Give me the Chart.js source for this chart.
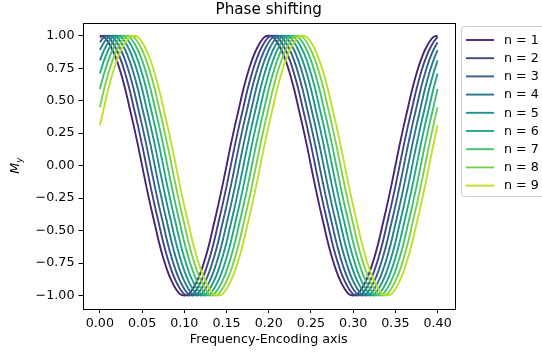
<!DOCTYPE html>
<html>
<head>
<meta charset="utf-8">
<script src="https://cdn.jsdelivr.net/npm/chart.js@4/dist/chart.umd.min.js"></script>
<style>
  html, body { margin: 0; padding: 0; background: #fff; }
  canvas { display: block; }
</style>
</head>
<body>
<canvas id="chart" width="542" height="354"></canvas>
<script>
// Sample positions along the frequency-encoding axis
const xValues = [
  0, 0.005, 0.01, 0.015, 0.02, 0.025, 0.03, 0.035, 0.04, 0.045,
  0.05, 0.055, 0.06, 0.065, 0.07, 0.075, 0.08, 0.085, 0.09, 0.095,
  0.1, 0.105, 0.11, 0.115, 0.12, 0.125, 0.13, 0.135, 0.14, 0.145,
  0.15, 0.155, 0.16, 0.165, 0.17, 0.175, 0.18, 0.185, 0.19, 0.195,
  0.2, 0.205, 0.21, 0.215, 0.22, 0.225, 0.23, 0.235, 0.24, 0.245,
  0.25, 0.255, 0.26, 0.265, 0.27, 0.275, 0.28, 0.285, 0.29, 0.295,
  0.3, 0.305, 0.31, 0.315, 0.32, 0.325, 0.33, 0.335, 0.34, 0.345,
  0.35, 0.355, 0.36, 0.365, 0.37, 0.375, 0.38, 0.385, 0.39, 0.395,
  0.4
];

// M_y for each phase-encoding step n
const myN1 = [
  1, 0.99, 0.95, 0.89, 0.81, 0.71, 0.59, 0.45, 0.31, 0.16,
  0, -0.16, -0.31, -0.45, -0.59, -0.71, -0.81, -0.89, -0.95, -0.99,
  -1, -0.99, -0.95, -0.89, -0.81, -0.71, -0.59, -0.45, -0.31, -0.16,
  0, 0.16, 0.31, 0.45, 0.59, 0.71, 0.81, 0.89, 0.95, 0.99,
  1, 0.99, 0.95, 0.89, 0.81, 0.71, 0.59, 0.45, 0.31, 0.16,
  0, -0.16, -0.31, -0.45, -0.59, -0.71, -0.81, -0.89, -0.95, -0.99,
  -1, -0.99, -0.95, -0.89, -0.81, -0.71, -0.59, -0.45, -0.31, -0.16,
  0, 0.16, 0.31, 0.45, 0.59, 0.71, 0.81, 0.89, 0.95, 0.99,
  1
];
const myN2 = [
  0.99, 1, 0.99, 0.95, 0.89, 0.81, 0.71, 0.59, 0.45, 0.31,
  0.16, 0, -0.16, -0.31, -0.45, -0.59, -0.71, -0.81, -0.89, -0.95,
  -0.99, -1, -0.99, -0.95, -0.89, -0.81, -0.71, -0.59, -0.45, -0.31,
  -0.16, 0, 0.16, 0.31, 0.45, 0.59, 0.71, 0.81, 0.89, 0.95,
  0.99, 1, 0.99, 0.95, 0.89, 0.81, 0.71, 0.59, 0.45, 0.31,
  0.16, 0, -0.16, -0.31, -0.45, -0.59, -0.71, -0.81, -0.89, -0.95,
  -0.99, -1, -0.99, -0.95, -0.89, -0.81, -0.71, -0.59, -0.45, -0.31,
  -0.16, 0, 0.16, 0.31, 0.45, 0.59, 0.71, 0.81, 0.89, 0.95,
  0.99
];
const myN3 = [
  0.95, 0.99, 1, 0.99, 0.95, 0.89, 0.81, 0.71, 0.59, 0.45,
  0.31, 0.16, 0, -0.16, -0.31, -0.45, -0.59, -0.71, -0.81, -0.89,
  -0.95, -0.99, -1, -0.99, -0.95, -0.89, -0.81, -0.71, -0.59, -0.45,
  -0.31, -0.16, 0, 0.16, 0.31, 0.45, 0.59, 0.71, 0.81, 0.89,
  0.95, 0.99, 1, 0.99, 0.95, 0.89, 0.81, 0.71, 0.59, 0.45,
  0.31, 0.16, 0, -0.16, -0.31, -0.45, -0.59, -0.71, -0.81, -0.89,
  -0.95, -0.99, -1, -0.99, -0.95, -0.89, -0.81, -0.71, -0.59, -0.45,
  -0.31, -0.16, 0, 0.16, 0.31, 0.45, 0.59, 0.71, 0.81, 0.89,
  0.95
];
const myN4 = [
  0.89, 0.95, 0.99, 1, 0.99, 0.95, 0.89, 0.81, 0.71, 0.59,
  0.45, 0.31, 0.16, 0, -0.16, -0.31, -0.45, -0.59, -0.71, -0.81,
  -0.89, -0.95, -0.99, -1, -0.99, -0.95, -0.89, -0.81, -0.71, -0.59,
  -0.45, -0.31, -0.16, 0, 0.16, 0.31, 0.45, 0.59, 0.71, 0.81,
  0.89, 0.95, 0.99, 1, 0.99, 0.95, 0.89, 0.81, 0.71, 0.59,
  0.45, 0.31, 0.16, 0, -0.16, -0.31, -0.45, -0.59, -0.71, -0.81,
  -0.89, -0.95, -0.99, -1, -0.99, -0.95, -0.89, -0.81, -0.71, -0.59,
  -0.45, -0.31, -0.16, 0, 0.16, 0.31, 0.45, 0.59, 0.71, 0.81,
  0.89
];
const myN5 = [
  0.81, 0.89, 0.95, 0.99, 1, 0.99, 0.95, 0.89, 0.81, 0.71,
  0.59, 0.45, 0.31, 0.16, 0, -0.16, -0.31, -0.45, -0.59, -0.71,
  -0.81, -0.89, -0.95, -0.99, -1, -0.99, -0.95, -0.89, -0.81, -0.71,
  -0.59, -0.45, -0.31, -0.16, 0, 0.16, 0.31, 0.45, 0.59, 0.71,
  0.81, 0.89, 0.95, 0.99, 1, 0.99, 0.95, 0.89, 0.81, 0.71,
  0.59, 0.45, 0.31, 0.16, 0, -0.16, -0.31, -0.45, -0.59, -0.71,
  -0.81, -0.89, -0.95, -0.99, -1, -0.99, -0.95, -0.89, -0.81, -0.71,
  -0.59, -0.45, -0.31, -0.16, 0, 0.16, 0.31, 0.45, 0.59, 0.71,
  0.81
];
const myN6 = [
  0.71, 0.81, 0.89, 0.95, 0.99, 1, 0.99, 0.95, 0.89, 0.81,
  0.71, 0.59, 0.45, 0.31, 0.16, 0, -0.16, -0.31, -0.45, -0.59,
  -0.71, -0.81, -0.89, -0.95, -0.99, -1, -0.99, -0.95, -0.89, -0.81,
  -0.71, -0.59, -0.45, -0.31, -0.16, 0, 0.16, 0.31, 0.45, 0.59,
  0.71, 0.81, 0.89, 0.95, 0.99, 1, 0.99, 0.95, 0.89, 0.81,
  0.71, 0.59, 0.45, 0.31, 0.16, 0, -0.16, -0.31, -0.45, -0.59,
  -0.71, -0.81, -0.89, -0.95, -0.99, -1, -0.99, -0.95, -0.89, -0.81,
  -0.71, -0.59, -0.45, -0.31, -0.16, 0, 0.16, 0.31, 0.45, 0.59,
  0.71
];
const myN7 = [
  0.59, 0.71, 0.81, 0.89, 0.95, 0.99, 1, 0.99, 0.95, 0.89,
  0.81, 0.71, 0.59, 0.45, 0.31, 0.16, 0, -0.16, -0.31, -0.45,
  -0.59, -0.71, -0.81, -0.89, -0.95, -0.99, -1, -0.99, -0.95, -0.89,
  -0.81, -0.71, -0.59, -0.45, -0.31, -0.16, 0, 0.16, 0.31, 0.45,
  0.59, 0.71, 0.81, 0.89, 0.95, 0.99, 1, 0.99, 0.95, 0.89,
  0.81, 0.71, 0.59, 0.45, 0.31, 0.16, 0, -0.16, -0.31, -0.45,
  -0.59, -0.71, -0.81, -0.89, -0.95, -0.99, -1, -0.99, -0.95, -0.89,
  -0.81, -0.71, -0.59, -0.45, -0.31, -0.16, 0, 0.16, 0.31, 0.45,
  0.59
];
const myN8 = [
  0.45, 0.59, 0.71, 0.81, 0.89, 0.95, 0.99, 1, 0.99, 0.95,
  0.89, 0.81, 0.71, 0.59, 0.45, 0.31, 0.16, 0, -0.16, -0.31,
  -0.45, -0.59, -0.71, -0.81, -0.89, -0.95, -0.99, -1, -0.99, -0.95,
  -0.89, -0.81, -0.71, -0.59, -0.45, -0.31, -0.16, 0, 0.16, 0.31,
  0.45, 0.59, 0.71, 0.81, 0.89, 0.95, 0.99, 1, 0.99, 0.95,
  0.89, 0.81, 0.71, 0.59, 0.45, 0.31, 0.16, 0, -0.16, -0.31,
  -0.45, -0.59, -0.71, -0.81, -0.89, -0.95, -0.99, -1, -0.99, -0.95,
  -0.89, -0.81, -0.71, -0.59, -0.45, -0.31, -0.16, 0, 0.16, 0.31,
  0.45
];
const myN9 = [
  0.31, 0.45, 0.59, 0.71, 0.81, 0.89, 0.95, 0.99, 1, 0.99,
  0.95, 0.89, 0.81, 0.71, 0.59, 0.45, 0.31, 0.16, 0, -0.16,
  -0.31, -0.45, -0.59, -0.71, -0.81, -0.89, -0.95, -0.99, -1, -0.99,
  -0.95, -0.89, -0.81, -0.71, -0.59, -0.45, -0.31, -0.16, 0, 0.16,
  0.31, 0.45, 0.59, 0.71, 0.81, 0.89, 0.95, 0.99, 1, 0.99,
  0.95, 0.89, 0.81, 0.71, 0.59, 0.45, 0.31, 0.16, 0, -0.16,
  -0.31, -0.45, -0.59, -0.71, -0.81, -0.89, -0.95, -0.99, -1, -0.99,
  -0.95, -0.89, -0.81, -0.71, -0.59, -0.45, -0.31, -0.16, 0, 0.16,
  0.31
];

const seriesLabels = ['n = 1', 'n = 2', 'n = 3', 'n = 4', 'n = 5', 'n = 6', 'n = 7', 'n = 8', 'n = 9'];
const seriesValues = [myN1, myN2, myN3, myN4, myN5, myN6, myN7, myN8, myN9];
const lineColors = ['#482475', '#414487', '#355f8d', '#2a788e', '#21918c', '#22a884', '#44bf70', '#7ad151', '#bddf26'];

const xTickValues = [0, 0.05, 0.1, 0.15, 0.2, 0.25, 0.3, 0.35, 0.4];
const xTickLabels = ['0.00', '0.05', '0.10', '0.15', '0.20', '0.25', '0.30', '0.35', '0.40'];
const yTickValues = [-1, -0.75, -0.5, -0.25, 0, 0.25, 0.5, 0.75, 1];
const yTickLabels = ['\u22121.00', '\u22120.75', '\u22120.50', '\u22120.25', '0.00', '0.25', '0.50', '0.75', '1.00'];

const FONT = 'DejaVu Sans';
const TICK_SIZE = 12.7;
Chart.defaults.font.family = FONT;
Chart.defaults.color = '#000';

// Full box around the plotting area
const framePlugin = {
  id: 'frame',
  afterDatasetsDraw(chart) {
    const { ctx, chartArea: a } = chart;
    ctx.save();
    ctx.strokeStyle = '#000';
    ctx.lineWidth = 1;
    ctx.strokeRect(Math.round(a.left) + 0.5, Math.round(a.top) + 0.5,
                   Math.round(a.right - a.left), Math.round(a.bottom - a.top));
    ctx.restore();
  }
};

// Boxed legend placed outside the axes, top right
const sideLegendPlugin = {
  id: 'sideLegend',
  afterDraw(chart) {
    const { ctx } = chart;
    const boxX = 461.5, boxY = 26.5, boxW = 90, boxH = 170, r = 3;
    ctx.save();
    ctx.beginPath();
    ctx.moveTo(boxX + r, boxY);
    ctx.lineTo(boxX + boxW - r, boxY);
    ctx.arcTo(boxX + boxW, boxY, boxX + boxW, boxY + r, r);
    ctx.lineTo(boxX + boxW, boxY + boxH - r);
    ctx.arcTo(boxX + boxW, boxY + boxH, boxX + boxW - r, boxY + boxH, r);
    ctx.lineTo(boxX + r, boxY + boxH);
    ctx.arcTo(boxX, boxY + boxH, boxX, boxY + boxH - r, r);
    ctx.lineTo(boxX, boxY + r);
    ctx.arcTo(boxX, boxY, boxX + r, boxY, r);
    ctx.closePath();
    ctx.fillStyle = 'rgba(255,255,255,0.8)';
    ctx.fill();
    ctx.strokeStyle = '#cccccc';
    ctx.lineWidth = 1;
    ctx.stroke();

    ctx.font = TICK_SIZE + 'px "' + FONT + '"';
    ctx.textBaseline = 'middle';
    ctx.textAlign = 'left';
    chart.data.datasets.forEach((ds, i) => {
      const y = 40 + i * 18.2;
      ctx.beginPath();
      ctx.moveTo(466, y);
      ctx.lineTo(494, y);
      ctx.strokeStyle = ds.borderColor;
      ctx.lineWidth = 1.9;
      ctx.stroke();
      ctx.fillStyle = '#000';
      ctx.fillText(ds.label, 504, y + 0.5);
    });
    ctx.restore();
  }
};

// Italic "M" with subscript "y" as the vertical axis title
const yTitlePlugin = {
  id: 'yTitle',
  afterDraw(chart) {
    const { ctx, chartArea: a } = chart;
    const cy = (a.top + a.bottom) / 2;
    ctx.save();
    ctx.translate(19, cy);
    ctx.rotate(-Math.PI / 2);
    ctx.fillStyle = '#000';
    ctx.textBaseline = 'alphabetic';
    ctx.textAlign = 'left';
    const mainFont = 'italic ' + TICK_SIZE + 'px "' + FONT + '"';
    const subFont = 'italic ' + (TICK_SIZE * 0.7).toFixed(1) + 'px "' + FONT + '"';
    ctx.font = mainFont;
    const wM = ctx.measureText('M').width;
    ctx.font = subFont;
    const wY = ctx.measureText('y').width;
    const x0 = -(wM + wY) / 2;
    ctx.font = mainFont;
    ctx.fillText('M', x0, 0);
    ctx.font = subFont;
    ctx.fillText('y', x0 + wM, 2.5);
    ctx.restore();
  }
};

const datasets = seriesLabels.map((label, i) => ({
  label,
  data: seriesValues[i],
  borderColor: lineColors[i],
  backgroundColor: lineColors[i],
  borderWidth: 1.9,
  pointRadius: 0,
  fill: false,
  cubicInterpolationMode: 'monotone',
  order: seriesLabels.length - i
}));

new Chart(document.getElementById('chart'), {
  type: 'line',
  data: { labels: xValues, datasets },
  plugins: [framePlugin, sideLegendPlugin, yTitlePlugin],
  options: {
    responsive: false,
    animation: false,
    devicePixelRatio: 1,
    layout: { padding: { left: 0, right: 87.5, top: 0, bottom: 0 } },
    plugins: {
      legend: { display: false },
      tooltip: { enabled: false },
      title: {
        display: true,
        fullSize: false,
        text: 'Phase shifting',
        color: '#000',
        font: { family: FONT, size: 15.2, weight: 'normal' },
        padding: { top: 1, bottom: 3.5 }
      }
    },
    scales: {
      x: {
        type: 'linear',
        min: -0.02,
        max: 0.42,
        afterBuildTicks: (s) => { s.ticks = xTickValues.map(v => ({ value: v })); },
        afterFit: (s) => { s.height = 45.5; },
        ticks: {
          color: '#000',
          font: { family: FONT, size: TICK_SIZE },
          padding: 3,
          maxRotation: 0,
          autoSkip: false,
          callback: (v, i) => xTickLabels[i]
        },
        grid: { drawOnChartArea: false, drawTicks: true, tickLength: 4.5, tickColor: '#000', lineWidth: 1 },
        border: { display: false },
        title: {
          display: true,
          text: 'Frequency-Encoding axis',
          color: '#000',
          font: { family: FONT, size: TICK_SIZE },
          padding: { top: 0, bottom: 7 }
        }
      },
      y: {
        type: 'linear',
        min: -1.1,
        max: 1.1,
        afterBuildTicks: (s) => { s.ticks = yTickValues.map(v => ({ value: v })); },
        afterFit: (s) => { s.width = 83; },
        ticks: {
          color: '#000',
          font: { family: FONT, size: TICK_SIZE },
          padding: 4,
          autoSkip: false,
          callback: (v, i) => yTickLabels[i]
        },
        grid: { drawOnChartArea: false, drawTicks: true, tickLength: 4.5, tickColor: '#000', lineWidth: 1 },
        border: { display: false }
      }
    }
  }
});
</script>
</body>
</html>
